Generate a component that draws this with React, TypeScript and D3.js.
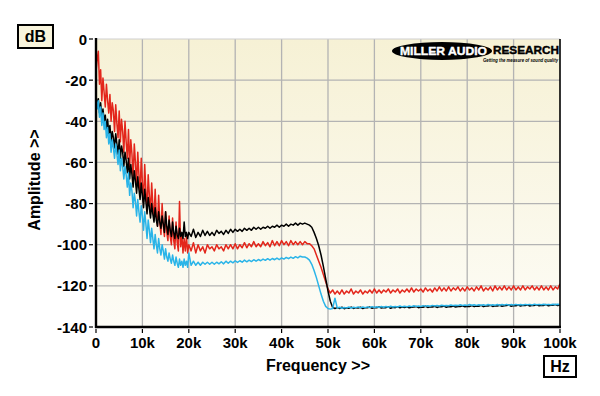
import React from 'react';
import * as d3 from 'd3';

// Sampling of the traces: dense below 20 kHz, coarser above (kHz)
const LOW_STEP_KHZ = 0.25;
const HIGH_START_KHZ = 20.5;
const HIGH_STEP_KHZ = 0.5;

const xTickValues = [0, 10, 20, 30, 40, 50, 60, 70, 80, 90, 100];
const xTickLabels = ['0', '10k', '20k', '30k', '40k', '50k', '60k', '70k', '80k', '90k', '100k'];
const yTickValues = [0, -20, -40, -60, -80, -100, -120, -140];

// 0 .. 20 kHz, every 0.25 kHz
const redLow = [
  -16, -10, -6, -22, -15, -30, -19, -26,
  -33, -22, -30, -36, -27, -40, -31, -35,
  -45, -32, -41, -48, -35, -50, -39, -45,
  -55, -40, -50, -58, -44, -62, -49, -56,
  -68, -51, -60, -72, -55, -66, -75, -58,
  -70, -79, -61, -74, -83, -66, -76, -85,
  -70, -81, -88, -73, -86, -91, -76, -89,
  -95, -80, -91, -96, -84, -94, -98, -86,
  -96, -100, -87, -98, -102, -89, -99, -103,
  -79, -101, -95, -104, -97, -103, -96, -104,
  -100,
];
const blackLow = [
  -27, -33, -29, -36, -31, -38, -34, -40,
  -37, -44, -39, -46, -42, -50, -45, -48,
  -53, -46, -51, -56, -49, -58, -52, -55,
  -62, -55, -59, -65, -58, -68, -61, -66,
  -72, -64, -69, -75, -67, -73, -78, -70,
  -76, -82, -73, -79, -85, -77, -82, -87,
  -80, -85, -89, -82, -88, -91, -84, -89,
  -92, -86, -90, -94, -84, -91, -95, -88,
  -93, -96, -89, -94, -97, -91, -95, -97,
  -92, -96, -94, -97, -89, -96, -94, -97,
  -94,
];
const cyanLow = [
  -28, -34, -30, -38, -33, -42, -36, -44,
  -40, -48, -43, -51, -46, -55, -49, -53,
  -58, -51, -56, -61, -54, -64, -58, -62,
  -68, -62, -66, -72, -65, -76, -70, -74,
  -82, -75, -79, -86, -78, -84, -89, -81,
  -86, -93, -84, -90, -97, -88, -93, -99,
  -92, -97, -102, -95, -100, -104, -97, -102,
  -105, -100, -103, -107, -102, -106, -108, -104,
  -107, -109, -105, -108, -110, -106, -109, -111,
  -107, -110, -108, -111, -107, -110, -108, -111,
  -104,
];

// 20.5 .. 100 kHz, every 0.5 kHz
const redHigh = [
  -103, -99, -104, -100, -103, -101, -104, -100, -102,
  -101, -103, -100, -102, -101, -103, -100, -102, -100, -102,
  -99.5, -102, -100, -101.5, -99, -101.5, -99.5, -101, -98.5, -101,
  -99.5, -101, -98.5, -100.5, -99, -101, -98, -100.5, -98.5, -100.5,
  -98, -100, -98.5, -100.5, -98, -100, -98.5, -100, -98.5, -100,
  -98.5, -99.5, -99.5, -100.5, -102, -105, -108, -111, -114.5, -118,
  -121.5, -123.5, -122, -124, -122.5, -124, -122, -124, -122.5, -123.5,
  -121.5, -124, -122.5, -123.5, -122, -124, -122.5, -123.5, -122, -123.5,
  -121.5, -123.5, -122, -123.5, -122, -123, -121.5, -123.5, -122, -123,
  -121.5, -123.5, -122, -123, -121.5, -123, -121, -123, -121.5, -122.5,
  -121.5, -123, -121, -122.5, -121.5, -123, -121, -122.5, -120.5, -122.5,
  -121, -122.5, -120.5, -122.5, -121, -122, -120.5, -122.5, -121, -122.5,
  -120.5, -122, -121, -122.5, -120.5, -122, -120, -122.5, -121, -122,
  -120.5, -122.5, -120, -122, -120.5, -122, -120, -122, -120.5, -122,
  -120, -122, -120.5, -122, -120, -122, -120.5, -121.5, -120, -122,
  -120.5, -122, -120, -122, -120.5, -122, -120, -122, -120.5, -121.5, -119,
];
const blackHigh = [
  -96, -92.5, -96.5, -94, -96, -93, -95.5, -93.5, -95.5,
  -94, -95.5, -93, -94.5, -93.5, -95, -93, -94.5, -92.5, -94,
  -92.5, -93.5, -92.5, -93.5, -92, -93, -92, -93, -91.5, -92.5,
  -91.5, -92.5, -91.5, -92, -91, -92, -91, -91.5, -90.5, -91.5,
  -90.5, -91, -90, -91, -90, -90.5, -89.5, -90.5, -89.5, -90,
  -89.5, -90, -90.5, -91.5, -94, -97, -100.5, -105, -110.5, -116.5,
  -122.5, -127.5, -130.5, -131,
  -130.6, -131, -130.4, -131.1, -130.7, -130.9, -130.3, -131, -130.6, -130.8,
  -130.4, -131, -130.7, -130.6, -130.3, -130.9, -130.5, -130.7, -130.2, -130.8,
  -130.5, -130.6, -130.2, -130.9, -130.4, -130.6, -130.1, -130.7, -130.3, -130.5,
  -130.2, -130.7, -130.4, -130.3, -130, -130.6, -130.3, -130.4, -129.9, -130.5,
  -130.2, -130.3, -129.9, -130.5, -130.1, -130.2, -129.8, -130.4, -130, -130.2,
  -129.8, -130.3, -130, -130, -129.7, -130.2, -129.9, -130, -129.6, -130.1,
  -129.8, -129.9, -129.5, -130.1, -129.8, -129.8, -129.5, -130, -129.7, -129.8,
  -129.4, -129.9, -129.7, -129.6, -129.3, -129.9, -129.6, -129.7, -129.3, -129.8,
  -129.5, -129.6, -129.2, -129.8, -129.5, -129.5, -129.2, -129.7, -129.4, -129.5,
  -129.1, -129.7, -129.4, -129.4, -129.1, -129.6, -129.3,
];
const cyanHigh = [
  -110, -108, -110, -108.5, -110, -108.5, -109.5, -108.5, -109.5,
  -108.5, -109.5, -108.5, -109.3, -108.3, -109.3, -108, -109, -108, -108.8,
  -107.8, -108.6, -107.8, -108.5, -107.5, -108.3, -107.5, -108.2, -107.3, -108,
  -107.2, -107.8, -107, -107.6, -106.8, -107.5, -106.7, -107.3, -106.5, -107.2,
  -106.4, -107, -106.2, -106.8, -106, -106.6, -105.8, -106.4, -105.6, -106,
  -106, -106.5, -107.5, -109.5, -112.5, -116, -120, -124, -127.5, -130,
  -131, -131.3, -131, -126,
  -130.8, -130.4, -130.9, -130.5, -130.7, -130.3, -130.8, -130.4, -130.6, -130.2,
  -130.7, -130.3, -130.6, -130.2, -130.6, -130.1, -130.5, -130.2, -130.5, -130,
  -130.4, -130, -130.4, -129.9, -130.3, -130, -130.3, -129.8, -130.2, -129.9,
  -130.2, -129.8, -130.1, -129.7, -130, -129.8, -130, -129.6, -129.9, -129.7,
  -129.9, -129.5, -129.8, -129.6, -129.8, -129.4, -129.7, -129.5, -129.7, -129.3,
  -129.6, -129.4, -129.6, -129.2, -129.5, -129.3, -129.5, -129.1, -129.4, -129.2,
  -129.5, -129.2, -129.4, -129.2, -129.5, -129.1, -129.4, -129.2, -129.4, -129.1,
  -129.4, -129.1, -129.3, -129, -129.4, -129.1, -129.3, -129, -129.3, -129.1,
  -129.3, -129, -129.2, -129, -129.3, -128.9, -129.2, -129, -129.2, -128.9,
  -129.2, -129, -129.2, -128.9, -129.1, -129, -129.1,
];

const W = 600;
const H = 396;
const PL = 96, PR = 560, PT = 39, PB = 327;
const FONT = 'Liberation Sans, Arial, sans-serif';

function toPoints(low: number[], high: number[]): [number, number][] {
  return [
    ...low.map((v, i) => [i * LOW_STEP_KHZ, v] as [number, number]),
    ...high.map((v, i) => [HIGH_START_KHZ + i * HIGH_STEP_KHZ, v] as [number, number]),
  ];
}

export default function App() {
  const x = d3.scaleLinear().domain([0, 100]).range([PL, PR]);
  const y = d3.scaleLinear().domain([0, -140]).range([PT, PB]);
  const line = d3
    .line<[number, number]>()
    .x((d) => x(d[0]))
    .y((d) => y(d[1]));

  const series = [
    { data: toPoints(redLow, redHigh), color: '#e3261b' },
    { data: toPoints(blackLow, blackHigh), color: '#000000' },
    { data: toPoints(cyanLow, cyanHigh), color: '#2ab4e8' },
  ];

  return (
    <svg
      width={W}
      height={H}
      viewBox={`0 0 ${W} ${H}`}
      style={{ position: 'absolute', left: 0, top: 0, background: '#ffffff' }}
      fontFamily={FONT}
    >
      <defs>
        <linearGradient id="bg" x1="0" y1="0" x2="0" y2="1">
          <stop offset="0" stopColor="#f6f1d5" />
          <stop offset="1" stopColor="#fdfcf6" />
        </linearGradient>
        <clipPath id="clip">
          <rect x={PL} y={PT} width={PR - PL} height={PB - PT} />
        </clipPath>
      </defs>

      <rect x={PL} y={PT} width={PR - PL} height={PB - PT} fill="url(#bg)" />

      {/* grid */}
      {xTickValues.slice(1, -1).map((v) => (
        <line key={'gx' + v} x1={x(v)} x2={x(v)} y1={PT} y2={PB} stroke="#b3b3b3" strokeWidth={1.3} />
      ))}
      {yTickValues.slice(1, -1).map((v) => (
        <line key={'gy' + v} x1={PL} x2={PR} y1={y(v)} y2={y(v)} stroke="#b3b3b3" strokeWidth={1.3} />
      ))}
      <line x1={PL} x2={PR} y1={PT} y2={PT} stroke="#cfcfcf" strokeWidth={1} />

      {/* logo */}
      <g>
        <ellipse cx={442} cy={51} rx={50} ry={9} fill="#000" />
        <text x={400} y={54.5} fill="#fff" stroke="#fff" strokeWidth={0.4} fontSize={11.5} fontWeight={900} textLength={87} lengthAdjust="spacingAndGlyphs">
          MILLER AUDIO
        </text>
        <text x={493} y={54} fill="#000" stroke="#000" strokeWidth={0.4} fontSize={11} fontWeight={900} textLength={66} lengthAdjust="spacingAndGlyphs">
          RESEARCH
        </text>
        <text x={483} y={61.5} fill="#000" fontSize={4.6} fontWeight={700} fontStyle="italic" textLength={75} lengthAdjust="spacingAndGlyphs">
          Getting the measure of sound quality
        </text>
      </g>

      {/* traces */}
      <g clipPath="url(#clip)">
        {series.map((s, k) => (
          <path key={k} d={line(s.data) || ''} fill="none" stroke={s.color} strokeWidth={1.5} strokeLinejoin="round" />
        ))}
      </g>

      {/* frame */}
      <line x1={PR} x2={PR} y1={PT} y2={PB} stroke="#000" strokeWidth={1.6} />
      <line x1={PL} x2={PL} y1={PT - 1} y2={PB + 1} stroke="#000" strokeWidth={2.4} />
      <line x1={PL - 1} x2={PR + 1} y1={PB} y2={PB} stroke="#000" strokeWidth={2.4} />

      {/* y ticks */}
      {yTickValues.map((v) => (
        <g key={'yt' + v}>
          <line x1={89} x2={93} y1={y(v)} y2={y(v)} stroke="#000" strokeWidth={1.2} />
          <text x={87} y={y(v) + 5.5} textAnchor="end" fontSize={15} fontWeight={700} fill="#000">
            {v === 0 ? '0' : String(v)}
          </text>
        </g>
      ))}

      {/* x ticks */}
      {xTickValues.map((v, i) => (
        <g key={'xt' + v}>
          <line x1={x(v)} x2={x(v)} y1={PB + 2} y2={PB + 6} stroke="#000" strokeWidth={1.2} />
          <text x={x(v)} y={348} textAnchor="middle" fontSize={15} fontWeight={700} fill="#000">
            {xTickLabels[i]}
          </text>
        </g>
      ))}

      {/* axis titles */}
      <text x={318} y={371} textAnchor="middle" fontSize={16} fontWeight={700} fill="#000">
        Frequency &gt;&gt;
      </text>
      <text
        transform="translate(40,180) rotate(-90)"
        textAnchor="middle"
        fontSize={16}
        fontWeight={700}
        fill="#000"
      >
        Amplitude &gt;&gt;
      </text>

      {/* unit boxes */}
      <rect x={18} y={25} width={35} height={23} fill="#f8f4dc" stroke="#000" strokeWidth={2} />
      <text x={35.5} y={42} textAnchor="middle" fontSize={16} fontWeight={700} fill="#000">
        dB
      </text>
      <rect x={544} y={356} width={32} height={21} fill="#ffffff" stroke="#000" strokeWidth={2} />
      <text x={560} y={372} textAnchor="middle" fontSize={16} fontWeight={700} fill="#000">
        Hz
      </text>
    </svg>
  );
}
